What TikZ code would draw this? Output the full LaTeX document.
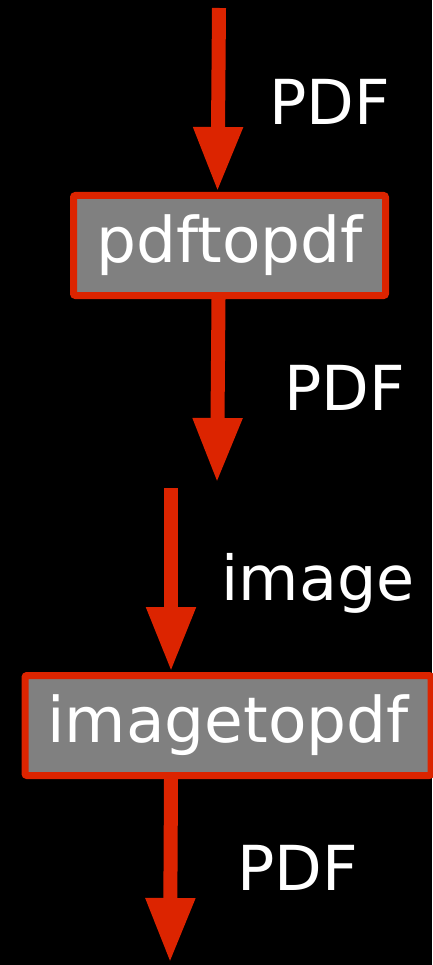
\documentclass[tikz,border=0pt]{standalone}
\usepackage{fontspec}
\setmainfont{DejaVu Sans}
\usetikzlibrary{arrows.meta,positioning,calc}
\definecolor{flowred}{RGB}{220,36,0}
\definecolor{boxgray}{RGB}{128,128,128}

\begin{document}
\begin{tikzpicture}[x=1pt, y=-1pt,
  filter/.style={draw=flowred, fill=boxgray, line width=7pt, rounded corners=2pt, inner sep=0pt, text=white, font=\fontsize{63}{72}\selectfont},
  flow/.style={draw=flowred, line width=14pt, -{Triangle[width=46pt,length=65pt]}},
  lbl/.style={text=white, font=\fontsize{62}{72}\selectfont, inner sep=0pt}]
  % background
  \fill[black] (0,0) rectangle (432,965);
  \useasboundingbox (0,0) rectangle (432,965);

  % Filters
  \node[filter, minimum width=312pt, minimum height=100pt] (pdftopdf) at (229.5,245.5) {pdftopdf};
  \node[filter, minimum width=406pt, minimum height=100pt] (imagetopdf) at (228,725.5) {imagetopdf};

  % Free ends
  \coordinate (in1) at (219,8);
  \coordinate (out1) at (217,483);
  \coordinate (in2) at (171,488);
  \coordinate (out2) at (170,963);

  % Arrows
  \draw[flow] (in1) -- ([xshift=-12pt]pdftopdf.north);
  \draw[flow] ([xshift=-11pt]pdftopdf.south) -- (out1);
  \draw[flow] (in2) -- ([xshift=-57pt]imagetopdf.north);
  \draw[flow] ([xshift=-57pt]imagetopdf.south) -- (out2);

  % Labels
  \node[lbl] (lpdf1) at (330,102) {PDF};
  \node[lbl] (lpdf2) at (345,388) {PDF};
  \node[lbl] (limage) at (318,583) {image};
  \node[lbl] (lpdf3) at (298,868) {PDF};
\end{tikzpicture}
\end{document}
